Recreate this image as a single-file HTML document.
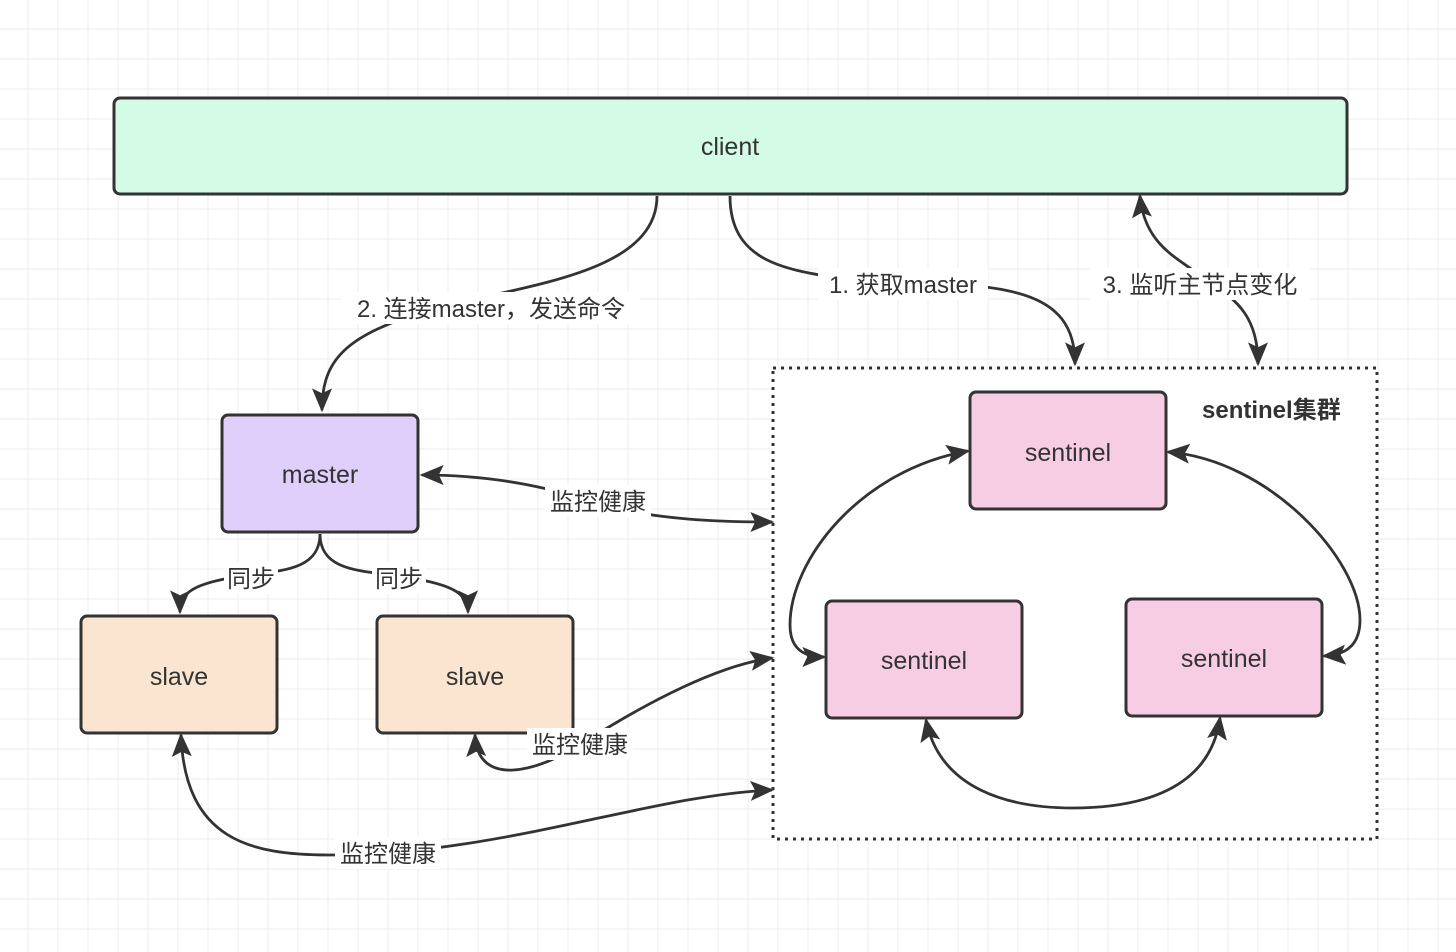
<!DOCTYPE html>
<html><head><meta charset="utf-8"><style>
html,body{margin:0;padding:0;background:#fff}
svg{display:block}
text{font-family:"Liberation Sans","Noto Sans CJK SC",sans-serif;fill:#333}
</style></head><body>
<svg width="1456" height="952" viewBox="0 0 1456 952" xmlns="http://www.w3.org/2000/svg">
<defs>
<pattern id="g" width="30" height="30" patternUnits="userSpaceOnUse" x="-1.5" y="-0.5">
<rect width="30" height="30" fill="#fff"/>
<path d="M30 0V30M0 30H30" stroke="#ececec" stroke-width="2"/>
</pattern>
<marker id="a" viewBox="0 0 10 10" refX="9" refY="5" markerWidth="24" markerHeight="20" markerUnits="userSpaceOnUse" orient="auto-start-reverse" preserveAspectRatio="none">
<path d="M0,0 L10,5 L0,10 L2,5 z" fill="#333"/>
</marker>
</defs>
<style>.c{fill:none;stroke:#333;stroke-width:2.8}</style>
<rect width="1456" height="952" fill="url(#g)"/>
<rect x="773" y="368" width="604" height="471" fill="#fff" stroke="#333" stroke-width="3" stroke-dasharray="3 5"/>
<text x="1202" y="418" font-size="24" font-weight="bold">sentinel集群</text>
<g font-size="25" text-anchor="middle">
<rect x="114" y="98" width="1233" height="96" rx="6" fill="#d4fbe6" stroke="#333" stroke-width="3"/>
<text x="730" y="155">client</text>
<rect x="222" y="415" width="196" height="117" rx="6" fill="#e0cffb" stroke="#333" stroke-width="3"/>
<text x="320" y="483">master</text>
<rect x="81" y="616" width="196" height="117" rx="6" fill="#fae6d0" stroke="#333" stroke-width="3"/>
<text x="179" y="685">slave</text>
<rect x="377" y="616" width="196" height="117" rx="6" fill="#fae6d0" stroke="#333" stroke-width="3"/>
<text x="475" y="685">slave</text>
<rect x="970" y="392" width="196" height="117" rx="6" fill="#f7cde4" stroke="#333" stroke-width="3"/>
<text x="1068" y="461">sentinel</text>
<rect x="826" y="601" width="196" height="117" rx="6" fill="#f7cde4" stroke="#333" stroke-width="3"/>
<text x="924" y="669">sentinel</text>
<rect x="1126" y="599" width="196" height="117" rx="6" fill="#f7cde4" stroke="#333" stroke-width="3"/>
<text x="1224" y="667">sentinel</text>
</g>
<g class="c">
<path d="M657,196 C657,275 520,285 430,310 C345,335 322,360 322,410" marker-end="url(#a)"/>
<path d="M730,196 C730,265 790,270 850,280 C990,285 1075,280 1075,364" marker-end="url(#a)"/>
<path d="M1140,196 C1145,250 1185,260 1205,280 C1240,300 1258,320 1258,364" marker-start="url(#a)" marker-end="url(#a)"/>
<path d="M422,475 C500,475 560,490 600,505 C660,520 720,522 772,522" marker-start="url(#a)" marker-end="url(#a)"/>
<path d="M320,534 C320,575 270,570 230,578 C190,585 180,595 180,612" marker-end="url(#a)"/>
<path d="M320,534 C320,575 370,570 410,578 C455,585 468,595 468,612" marker-end="url(#a)"/>
<path d="M475,735 C478,790 540,770 580,745 C650,700 720,665 772,658" marker-start="url(#a)" marker-end="url(#a)"/>
<path d="M181,735 C185,840 250,855 330,855 C500,855 650,795 772,790" marker-start="url(#a)" marker-end="url(#a)"/>
<path d="M968,451 C860,470 790,560 790,625 C790,650 805,657 824,657" marker-start="url(#a)" marker-end="url(#a)"/>
<path d="M1168,452 C1270,460 1360,560 1360,620 C1360,650 1340,655 1324,656" marker-start="url(#a)" marker-end="url(#a)"/>
<path d="M926,720 C940,790 1010,808 1073,808 C1140,808 1210,790 1220,718" marker-start="url(#a)" marker-end="url(#a)"/>
</g>
<g font-size="24">
<rect x="342" y="292" width="298" height="32" fill="#fff"/>
<text x="491" y="317" text-anchor="middle">2. 连接master，发送命令</text>
<rect x="818" y="268" width="170" height="32" fill="#fff"/>
<text x="903" y="293" text-anchor="middle">1. 获取master</text>
<rect x="1090" y="268" width="220" height="32" fill="#fff"/>
<text x="1200" y="293" text-anchor="middle">3. 监听主节点变化</text>
<rect x="545" y="485" width="106" height="32" fill="#fff"/>
<text x="598" y="510" text-anchor="middle">监控健康</text>
<rect x="224" y="562" width="54" height="32" fill="#fff"/>
<text x="251" y="587" text-anchor="middle">同步</text>
<rect x="372" y="562" width="54" height="32" fill="#fff"/>
<text x="399" y="587" text-anchor="middle">同步</text>
<rect x="527" y="728" width="106" height="32" fill="#fff"/>
<text x="580" y="753" text-anchor="middle">监控健康</text>
<rect x="335" y="837" width="106" height="32" fill="#fff"/>
<text x="388" y="862" text-anchor="middle">监控健康</text>
</g>
</svg>
</body></html>
